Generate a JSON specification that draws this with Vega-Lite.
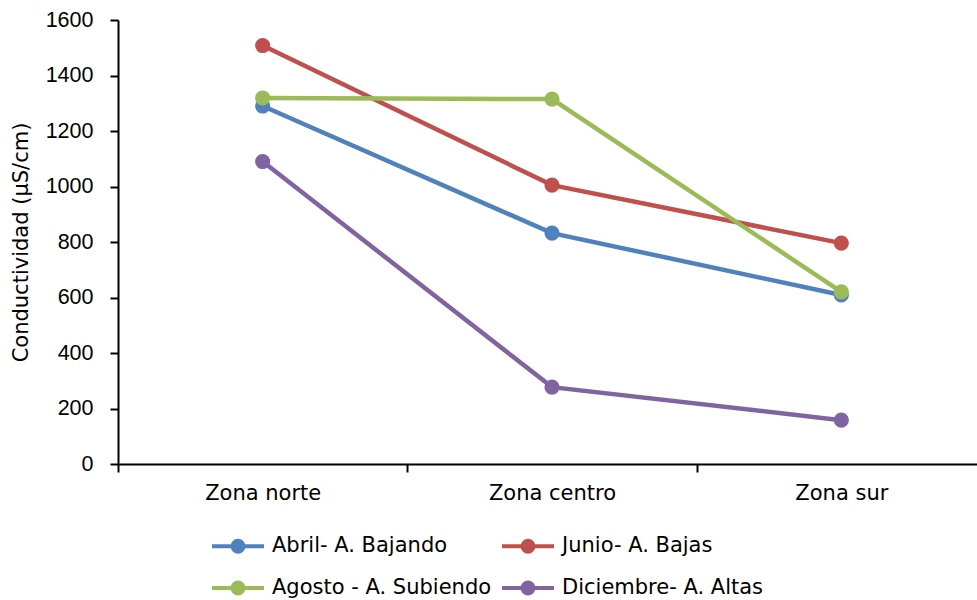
{
  "$schema": "https://vega.github.io/schema/vega-lite/v6.json",
  "autosize": {"type": "none"},
  "width": 859,
  "height": 444,
  "padding": {"left": 118, "top": 20, "right": 0, "bottom": 136},
  "background": "white",
  "config": {
    "view": {"stroke": null}
  },
  "data": {
    "values": [
      {"zona": "Zona norte", "serie": "Abril- A. Bajando", "valor": 1290},
      {"zona": "Zona centro", "serie": "Abril- A. Bajando", "valor": 832},
      {"zona": "Zona sur", "serie": "Abril- A. Bajando", "valor": 609},
      {"zona": "Zona norte", "serie": "Junio- A. Bajas", "valor": 1508},
      {"zona": "Zona centro", "serie": "Junio- A. Bajas", "valor": 1005},
      {"zona": "Zona sur", "serie": "Junio- A. Bajas", "valor": 796},
      {"zona": "Zona norte", "serie": "Agosto - A. Subiendo", "valor": 1319},
      {"zona": "Zona centro", "serie": "Agosto - A. Subiendo", "valor": 1315},
      {"zona": "Zona sur", "serie": "Agosto - A. Subiendo", "valor": 620},
      {"zona": "Zona norte", "serie": "Diciembre- A. Altas", "valor": 1090},
      {"zona": "Zona centro", "serie": "Diciembre- A. Altas", "valor": 277},
      {"zona": "Zona sur", "serie": "Diciembre- A. Altas", "valor": 158}
    ]
  },
  "mark": {"type": "line", "strokeWidth": 4.5, "point": {"filled": true, "size": 230, "opacity": 1}},
  "encoding": {
    "x": {
      "field": "zona", "type": "nominal", "sort": ["Zona norte", "Zona centro", "Zona sur"],
      "scale": {"type": "band", "paddingInner": 0, "paddingOuter": 0, "range": [0, 868]},
      "axis": {"title": null, "labelAngle": 0, "tickBand": "extent", "labelPadding": 10, "labelFont": "DejaVu Sans", "labelFontSize": 21, "labelColor": "black", "domainColor": "black", "tickColor": "black", "domainWidth": 2, "tickWidth": 2, "tickSize": 8, "grid": false}
    },
    "y": {
      "field": "valor", "type": "quantitative",
      "scale": {"domain": [0, 1600], "nice": false},
      "axis": {"title": "Conductividad (µS/cm)", "format": "d", "values": [0, 200, 400, 600, 800, 1000, 1200, 1400, 1600], "labelPadding": 17, "titlePadding": 14, "labelFont": "Liberation Sans", "labelFontSize": 21.5, "labelColor": "black", "titleFont": "DejaVu Sans", "titleFontSize": 21, "titleFontWeight": "normal", "titleColor": "black", "domainColor": "black", "tickColor": "black", "domainWidth": 2, "tickWidth": 2, "tickSize": 8, "grid": false}
    },
    "color": {
      "field": "serie", "type": "nominal",
      "scale": {"domain": ["Abril- A. Bajando", "Junio- A. Bajas", "Agosto - A. Subiendo", "Diciembre- A. Altas"], "range": ["#4F81BD", "#C0504D", "#9BBB59", "#8064A2"]},
      "legend": {
        "title": null, "orient": "none", "legendX": 92, "legendY": 498, "columns": 2, "direction": "horizontal",
        "symbolType": "M-1,0L1,0M0.21,0A0.21,0.21,0,1,1,-0.21,0A0.21,0.21,0,1,1,0.21,0Z",
        "symbolSize": 2704, "symbolStrokeWidth": 4, "labelFontSize": 21, "labelFont": "DejaVu Sans", "labelColor": "black",
        "labelOffset": 6, "columnPadding": 2, "rowPadding": -12, "labelLimit": 400,
        "encode": {"symbols": {"update": {"fill": {"scale": "color", "field": "value"}, "stroke": {"scale": "color", "field": "value"}, "opacity": {"value": 1}}}}
      }
    }
  }
}
